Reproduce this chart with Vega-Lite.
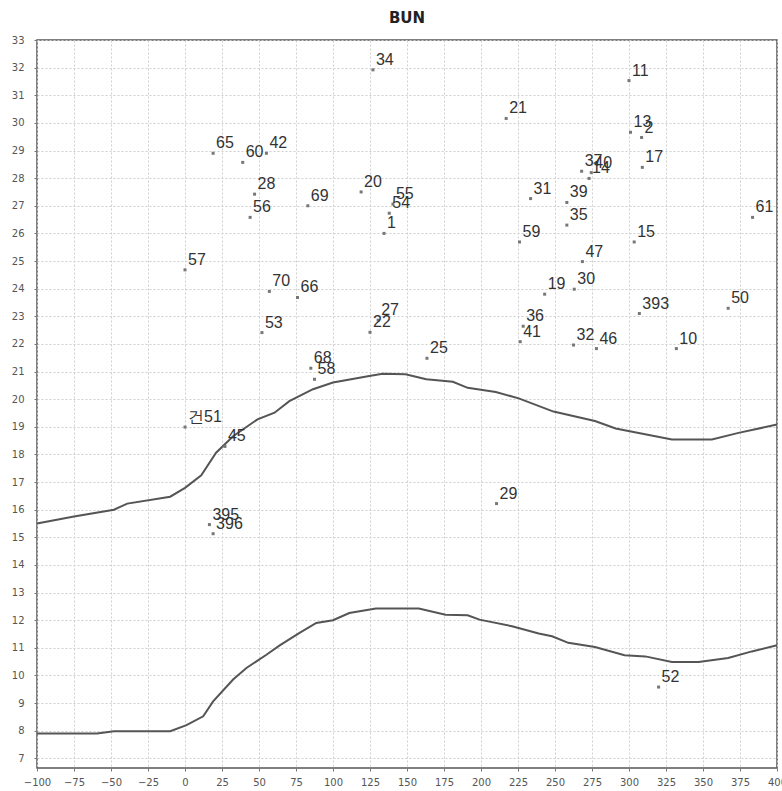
{
  "$schema": "https://vega.github.io/schema/vega-lite/v6.json",
  "autosize": "none",
  "width": 740,
  "height": 728,
  "padding": {"left": 37, "top": 40, "right": 5, "bottom": 23},
  "background": "white",
  "title": {"text": "BUN", "fontSize": 15, "fontWeight": "bold", "font": "DejaVu Sans", "color": "#222", "anchor": "middle", "offset": 9},
  "config": {
    "view": {"stroke": "#555", "strokeWidth": 1.5},
    "axis": {
      "grid": true, "gridColor": "#cfcfcf", "gridDash": [2, 2], "gridWidth": 1,
      "domain": false, "tickColor": "#777", "tickSize": 3,
      "labelFont": "DejaVu Sans", "labelFontSize": 10, "labelColor": "#555",
      "title": null
    }
  },
  "datasets": {
    "points": [
      {"id": "34", "x": 127, "y": 31.92},
      {"id": "11", "x": 300, "y": 31.53},
      {"id": "21", "x": 217, "y": 30.16},
      {"id": "13", "x": 301, "y": 29.66},
      {"id": "2", "x": 308.5, "y": 29.47},
      {"id": "65", "x": 19, "y": 28.9},
      {"id": "60", "x": 39, "y": 28.57},
      {"id": "42", "x": 55, "y": 28.9},
      {"id": "37", "x": 268, "y": 28.25},
      {"id": "40", "x": 274.5, "y": 28.2},
      {"id": "14", "x": 273, "y": 27.99},
      {"id": "17", "x": 309, "y": 28.39},
      {"id": "28", "x": 47, "y": 27.42},
      {"id": "20", "x": 119, "y": 27.5},
      {"id": "69", "x": 83, "y": 27.0},
      {"id": "55", "x": 140.5, "y": 27.06},
      {"id": "54", "x": 138, "y": 26.73},
      {"id": "31", "x": 233.5, "y": 27.26},
      {"id": "39", "x": 258, "y": 27.12},
      {"id": "56", "x": 44, "y": 26.58},
      {"id": "61", "x": 383.5, "y": 26.58},
      {"id": "35", "x": 258, "y": 26.3},
      {"id": "1", "x": 134.5, "y": 26.0},
      {"id": "59", "x": 226, "y": 25.69},
      {"id": "15", "x": 303.5, "y": 25.69},
      {"id": "47", "x": 268.5, "y": 24.98},
      {"id": "57", "x": 0, "y": 24.68},
      {"id": "70", "x": 57, "y": 23.9},
      {"id": "66", "x": 76, "y": 23.68},
      {"id": "30", "x": 263, "y": 23.98},
      {"id": "19", "x": 243, "y": 23.8},
      {"id": "393", "x": 307, "y": 23.1},
      {"id": "50", "x": 367, "y": 23.29},
      {"id": "27", "x": 130.5, "y": 22.86},
      {"id": "36", "x": 228.5, "y": 22.64},
      {"id": "53", "x": 52, "y": 22.41},
      {"id": "22", "x": 125, "y": 22.42},
      {"id": "41", "x": 226.5, "y": 22.08},
      {"id": "32", "x": 262.5, "y": 21.96},
      {"id": "46", "x": 278, "y": 21.83},
      {"id": "10", "x": 332, "y": 21.83},
      {"id": "25", "x": 163.5, "y": 21.48},
      {"id": "68", "x": 85, "y": 21.12},
      {"id": "58", "x": 87.5, "y": 20.72},
      {"id": "건51", "x": 0, "y": 18.99},
      {"id": "45", "x": 27, "y": 18.29},
      {"id": "29", "x": 210.5, "y": 16.22},
      {"id": "395", "x": 16.5, "y": 15.46},
      {"id": "396", "x": 19, "y": 15.13},
      {"id": "52", "x": 320, "y": 9.58}
    ],
    "curves": [
      {"s": "upper", "x": -100, "y": 15.5},
      {"s": "upper", "x": -75, "y": 15.75},
      {"s": "upper", "x": -48, "y": 16.0},
      {"s": "upper", "x": -39, "y": 16.22},
      {"s": "upper", "x": -10, "y": 16.47},
      {"s": "upper", "x": 0, "y": 16.79},
      {"s": "upper", "x": 11, "y": 17.24},
      {"s": "upper", "x": 21, "y": 18.06},
      {"s": "upper", "x": 32.5, "y": 18.66},
      {"s": "upper", "x": 49, "y": 19.27},
      {"s": "upper", "x": 60.5, "y": 19.51},
      {"s": "upper", "x": 70.5, "y": 19.93},
      {"s": "upper", "x": 86.5, "y": 20.36},
      {"s": "upper", "x": 100, "y": 20.6},
      {"s": "upper", "x": 124.5, "y": 20.84},
      {"s": "upper", "x": 133.5, "y": 20.92},
      {"s": "upper", "x": 149, "y": 20.9},
      {"s": "upper", "x": 163, "y": 20.72},
      {"s": "upper", "x": 181, "y": 20.63},
      {"s": "upper", "x": 191, "y": 20.41},
      {"s": "upper", "x": 210, "y": 20.26},
      {"s": "upper", "x": 225.5, "y": 20.03},
      {"s": "upper", "x": 249, "y": 19.55},
      {"s": "upper", "x": 277, "y": 19.21},
      {"s": "upper", "x": 291, "y": 18.94},
      {"s": "upper", "x": 329, "y": 18.54},
      {"s": "upper", "x": 356, "y": 18.54},
      {"s": "upper", "x": 374, "y": 18.78},
      {"s": "upper", "x": 400, "y": 19.08},
      {"s": "lower", "x": -100, "y": 7.9},
      {"s": "lower", "x": -59.5, "y": 7.9},
      {"s": "lower", "x": -48, "y": 7.98},
      {"s": "lower", "x": -10, "y": 7.98},
      {"s": "lower", "x": 1, "y": 8.2},
      {"s": "lower", "x": 12.3, "y": 8.52},
      {"s": "lower", "x": 19, "y": 9.06},
      {"s": "lower", "x": 32.5, "y": 9.85},
      {"s": "lower", "x": 41.5, "y": 10.27},
      {"s": "lower", "x": 55, "y": 10.75},
      {"s": "lower", "x": 64, "y": 11.09},
      {"s": "lower", "x": 77.4, "y": 11.54},
      {"s": "lower", "x": 88.7, "y": 11.9},
      {"s": "lower", "x": 100, "y": 12.0},
      {"s": "lower", "x": 111, "y": 12.26},
      {"s": "lower", "x": 129, "y": 12.42},
      {"s": "lower", "x": 145, "y": 12.42},
      {"s": "lower", "x": 158, "y": 12.42},
      {"s": "lower", "x": 176, "y": 12.2},
      {"s": "lower", "x": 191, "y": 12.18},
      {"s": "lower", "x": 199, "y": 12.02},
      {"s": "lower", "x": 221, "y": 11.78},
      {"s": "lower", "x": 239, "y": 11.52},
      {"s": "lower", "x": 248, "y": 11.42},
      {"s": "lower", "x": 259, "y": 11.18},
      {"s": "lower", "x": 277, "y": 11.03},
      {"s": "lower", "x": 297, "y": 10.73},
      {"s": "lower", "x": 311, "y": 10.69},
      {"s": "lower", "x": 329, "y": 10.49},
      {"s": "lower", "x": 347, "y": 10.49},
      {"s": "lower", "x": 367, "y": 10.63},
      {"s": "lower", "x": 383, "y": 10.87},
      {"s": "lower", "x": 400, "y": 11.09}
    ]
  },
  "encoding": {
    "x": {"field": "x", "type": "quantitative",
      "scale": {"domain": [-100, 400], "nice": false, "zero": false},
      "axis": {"values": [-100, -75, -50, -25, 0, 25, 50, 75, 100, 125, 150, 175, 200, 225, 250, 275, 300, 325, 350, 375, 400], "labelPadding": 6, "labelFlush": false, "labelOverlap": false}},
    "y": {"field": "y", "type": "quantitative",
      "scale": {"domain": [6.65, 33], "nice": false, "zero": false},
      "axis": {"values": [7, 8, 9, 10, 11, 12, 13, 14, 15, 16, 17, 18, 19, 20, 21, 22, 23, 24, 25, 26, 27, 28, 29, 30, 31, 32, 33], "labelPadding": 10, "labelOverlap": false}}
  },
  "layer": [
    {
      "data": {"name": "curves"},
      "mark": {"type": "line", "color": "#555", "strokeWidth": 2, "interpolate": "linear"},
      "encoding": {"detail": {"field": "s", "type": "nominal"}}
    },
    {
      "data": {"name": "points"},
      "mark": {"type": "point", "shape": "square", "filled": true, "size": 9, "color": "#777", "opacity": 1}
    },
    {
      "data": {"name": "points"},
      "mark": {"type": "text", "align": "left", "baseline": "alphabetic", "dx": 3, "dy": -5, "font": "Liberation Sans", "fontSize": 16, "color": "#333"},
      "encoding": {"text": {"field": "id", "type": "nominal"}}
    }
  ]
}
